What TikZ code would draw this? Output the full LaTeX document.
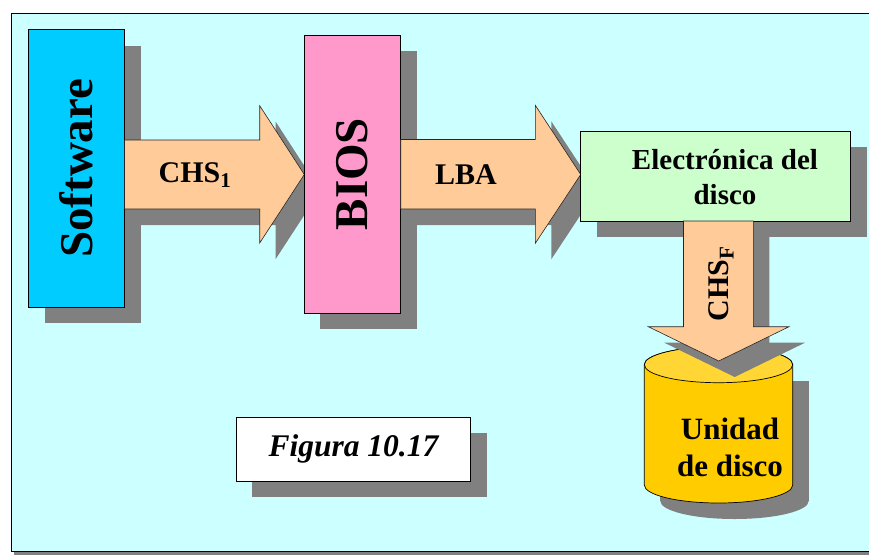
\documentclass[tikz,border=0pt]{standalone}
\usepackage{fontspec}
\setmainfont{Liberation Serif}
\usepackage{graphicx}
\usetikzlibrary{shadows}
\definecolor{bgcyan}{RGB}{204,255,255}
\definecolor{swblue}{RGB}{0,204,255}
\definecolor{biospink}{RGB}{255,153,204}
\definecolor{peach}{RGB}{255,204,153}
\definecolor{elgreen}{RGB}{204,255,204}
\definecolor{cylbody}{RGB}{255,204,0}
\definecolor{cyltop}{RGB}{255,214,51}
\definecolor{shadowgray}{RGB}{128,128,128}
\begin{document}
\begin{tikzpicture}[x=1pt,y=-1pt,
  box/.style={draw=black,line width=0.8pt,inner sep=0pt,font=\bfseries,
    drop shadow={shadow xshift=16pt,shadow yshift=-16pt,fill=shadowgray,opacity=1}},
  barrow/.style={fill=peach,draw=black!85,line width=0.6pt},
  ashadow/.style={fill=shadowgray,draw=none},
  lbl/.style={inner sep=0pt,font=\bfseries}]
\useasboundingbox (0,0) rectangle (869,554);
\clip (0,0) rectangle (869,554);
% frame
\fill[shadowgray] (14,16) rectangle (885,554.5);
\draw[fill=bgcyan,line width=0.8pt] (11,13) rectangle (880,551.5);
% Software
\node[box,fill=swblue,minimum width=96pt,minimum height=277.5pt] (sw) at (76.5,168.25)
  {\rotatebox{90}{\fontsize{47}{47}\selectfont Software}};
% arrow 1
\begin{scope}[shift={(16,16)}]
\fill[ashadow] (124.5,140) -- (259.7,140) -- (259.7,105.7) -- (304.3,174.5) -- (259.7,243) -- (259.7,209) -- (124.5,209) -- cycle;
\end{scope}
\draw[barrow] (124.5,140) -- (259.7,140) -- (259.7,105.7) -- (304.3,174.5) -- (259.7,243) -- (259.7,209) -- (124.5,209) -- cycle;
\node[lbl,font=\bfseries\fontsize{30}{30}\selectfont] (chs1) at (195,175) {CHS\textsubscript{1}};
% BIOS
\node[box,fill=biospink,minimum width=96.4pt,minimum height=278.3pt] (bios) at (352.5,174.15)
  {\rotatebox{90}{\fontsize{47}{47}\selectfont BIOS}};
% arrow 2
\begin{scope}[shift={(16,16)}]
\fill[ashadow] (400.7,139.5) -- (535.3,139.5) -- (535.3,105.3) -- (580.7,174.5) -- (535.3,243.3) -- (535.3,209) -- (400.7,209) -- cycle;
\end{scope}
\draw[barrow] (400.7,139.5) -- (535.3,139.5) -- (535.3,105.3) -- (580.7,174.5) -- (535.3,243.3) -- (535.3,209) -- (400.7,209) -- cycle;
\node[lbl,font=\bfseries\fontsize{30}{30}\selectfont] (lba) at (466,175) {LBA};
% Electronica
\node[box,fill=elgreen,minimum width=270pt,minimum height=90pt] (el) at (715.7,176) {};
\node[lbl,align=center,font=\bfseries\fontsize{29}{35}\selectfont] (eltext) at (725,177) {Electrónica del\\disco};
% cylinder shadow
\fill[shadowgray] (660.3,380.7) rectangle (808.7,501);
\fill[shadowgray] (734.5,501) ellipse[x radius=74.2pt,y radius=18pt];
% cylinder
\draw[fill=cylbody,line width=0.7pt] (644.3,364.7) -- (644.3,485) arc[start angle=180,end angle=360,x radius=74.2pt,y radius=18pt]
  -- (792.7,364.7) arc[start angle=0,end angle=180,x radius=74.2pt,y radius=18pt] -- cycle;
\draw[fill=cyltop,line width=0.7pt] (718.5,364.7) ellipse[x radius=74.2pt,y radius=18pt];
\node[lbl,align=center,font=\bfseries\fontsize{31}{37}\selectfont] (disk) at (730,447) {Unidad\\de disco};
% down arrow
\begin{scope}[shift={(16,16)}]
\fill[ashadow] (683.5,221) -- (683.5,326.7) -- (648.3,326.7) -- (718.7,361) -- (789,326.7) -- (753.3,326.7) -- (753.3,221) -- cycle;
\end{scope}
\draw[barrow] (683.5,221) -- (683.5,326.7) -- (648.3,326.7) -- (718.7,361) -- (789,326.7) -- (753.3,326.7) -- (753.3,221) -- cycle;
\node[lbl,rotate=90,font=\bfseries\fontsize{30}{30}\selectfont] (chsf) at (721,284) {CHS\textsubscript{F}};
% Figura
\node[box,fill=white,minimum width=234.7pt,minimum height=64pt,font=\bfseries\itshape\fontsize{31.5}{38}\selectfont] (fig) at (353.4,449.3)
  {Figura 10.17};
\end{tikzpicture}
\end{document}
